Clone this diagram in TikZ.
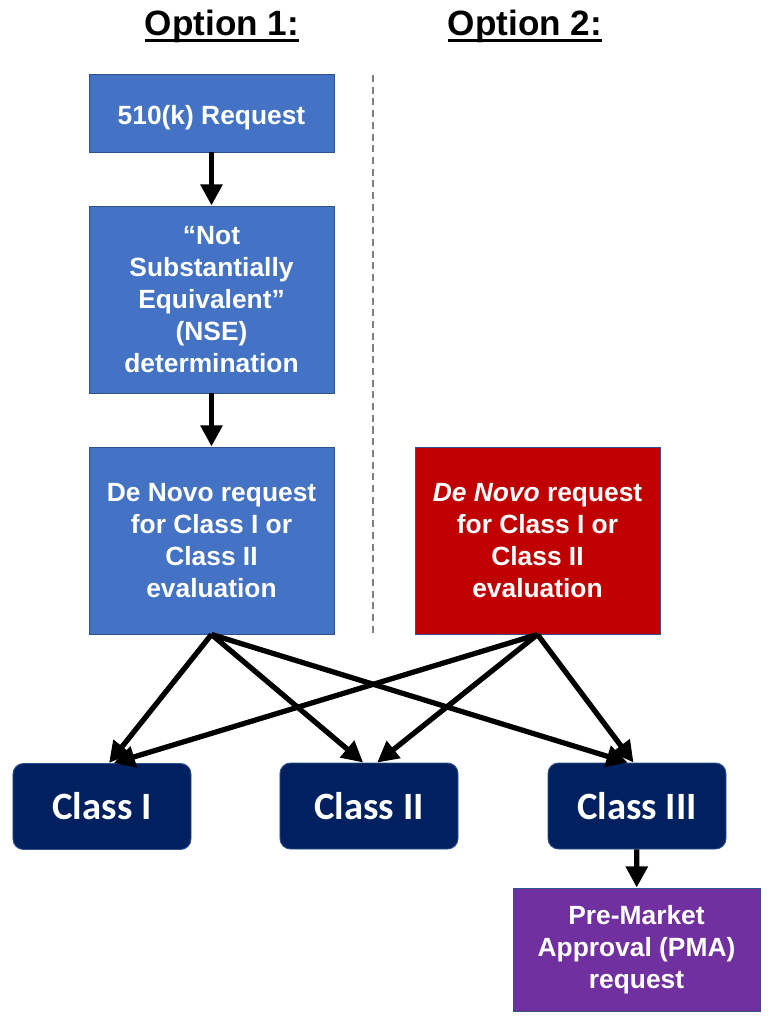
\documentclass[tikz,border=0pt]{standalone}
\usepackage{fontspec}
\setmainfont{Liberation Sans}
\newfontfamily\classfont{Carlito}
\usepackage{tikz}
\usetikzlibrary{arrows.meta, positioning, calc}
\definecolor{fdablue}{HTML}{4472C4}
\definecolor{fdaedge}{HTML}{2F528F}
\definecolor{fdared}{HTML}{C00000}
\definecolor{fdanavy}{HTML}{002060}
\definecolor{fdapurple}{HTML}{7030A0}
\tikzset{
  boxtext/.style={text=white, align=center, font=\bfseries\fontsize{22.5}{27.5}\selectfont},
  bluebox/.style={boxtext, fill=fdablue, draw=fdaedge, line width=0.8pt, minimum width=7.35cm},
  redbox/.style={boxtext, fill=fdared, draw=fdaedge, line width=0.8pt, minimum width=7.35cm, minimum height=5.61cm},
  classbox/.style={fill=fdanavy, draw=fdaedge, line width=0.8pt, rounded corners=9pt, text=white,
    font=\classfont\bfseries\fontsize{33}{39}\selectfont, minimum width=5.34cm, minimum height=2.58cm},
  pmabox/.style={boxtext, fill=fdapurple, draw=fdaedge, line width=0.8pt, minimum width=7.41cm, minimum height=3.69cm},
  heading/.style={font=\bfseries\fontsize{30}{36}\selectfont, inner sep=0pt},
  underl/.style={line width=2.2pt},
  arr/.style={-{Triangle[length=18pt,width=18pt]}, line width=4.5pt},
}

\begin{document}
\begin{tikzpicture}[x=0.03cm, y=-0.03cm]
\useasboundingbox (0,0) rectangle (774,1024);

% headings
\node[heading] (opt1) at (222,26) {Option 1:};
\node[heading] (opt2) at (525,26) {Option 2:};
\draw[underl] ([yshift=-4.5pt]opt1.base west) -- ([yshift=-4.5pt]opt1.base east);
\draw[underl] ([yshift=-4.5pt]opt2.base west) -- ([yshift=-4.5pt]opt2.base east);

% separator
\draw[gray, line width=0.9pt, dash pattern=on 6pt off 4pt] (373,75) -- (373,635);

% option 1 chain
\node[bluebox, minimum height=2.34cm] (req) at (211.5,113) {\raisebox{-4pt}[\height][\depth]{510(k) Request}};
\node[bluebox, minimum height=5.61cm] (nse) at (211.5,299.5) {``Not\\Substantially\\Equivalent''\\(NSE)\\determination};
\node[bluebox, minimum height=5.61cm] (novoA) at (211.5,540.5) {De Novo request\\for Class I or\\Class II\\evaluation};

% option 2
\node[redbox] (novoB) at (537.5,540.5) {\textit{De Novo} request\\for Class I or\\Class II\\evaluation};

% classes
\node[classbox] (c1) at (102,806.5) {Class I};
\node[classbox] (c2) at (369,806) {Class II};
\node[classbox] (c3) at (637,806) {Class III};
\node[pmabox] (pma) at (636.5,949.5) {Pre-Market\\Approval (PMA)\\request};

\draw[arr] (req) -- (nse);
\draw[arr] (nse) -- (novoA);
\draw[arr] (novoA.south) -- ([xshift=6pt]c1.north);
\draw[arr] (novoA.south) -- ([xshift=-5pt]c2.north);
\draw[arr] (novoA.south) -- ([xshift=-8pt]c3.north);
\draw[arr] (novoB.south) -- ([xshift=10pt]c1.north);
\draw[arr] (novoB.south) -- ([xshift=7pt]c2.north);
\draw[arr] (novoB.south) -- ([xshift=-3pt]c3.north);
\draw[arr] (c3) -- (pma);
\end{tikzpicture}
\end{document}
